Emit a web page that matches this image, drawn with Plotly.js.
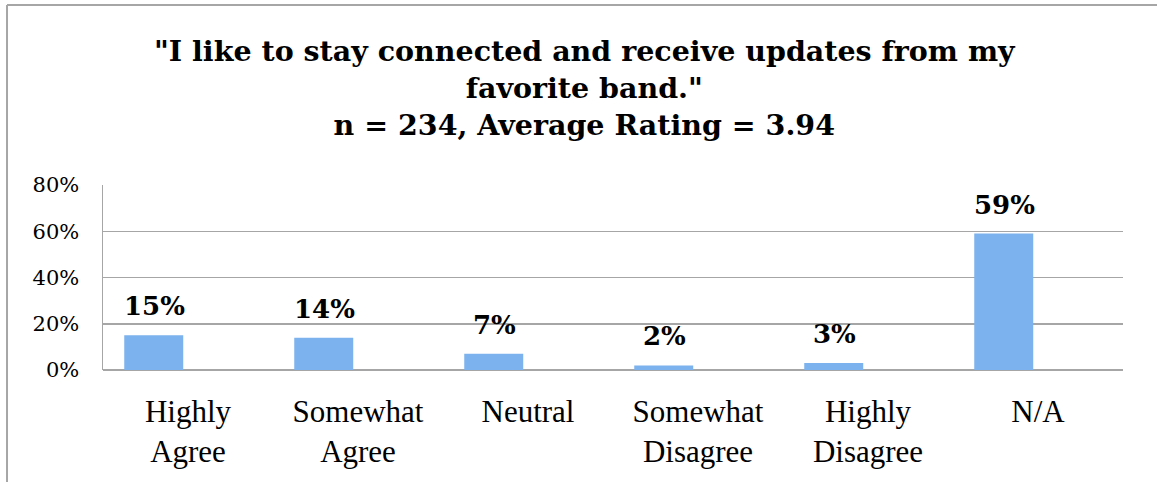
<!DOCTYPE html>
<html>
<head>
<meta charset="utf-8">
<script src="https://cdn.plot.ly/plotly-3.0.1.min.js"></script>
<style>
html,body{margin:0;padding:0;background:#fff;}
#chart{width:1157px;height:482px;}
</style>
</head>
<body>
<div id="chart"></div>
<script>
var categories = ["Highly<br>Agree", "Somewhat<br>Agree", "Neutral", "Somewhat<br>Disagree", "Highly<br>Disagree", "N/A"];
var values = [0.15, 0.14, 0.07, 0.02, 0.03, 0.59];
var valueLabels = ["15%", "14%", "7%", "2%", "3%", "59%"];
var yTickVals = [0, 0.2, 0.4, 0.6, 0.8];
var yTickText = ["0%", "20%", "40%", "60%", "80%"];

var serif = "Liberation Serif, Times New Roman, serif";
var wideSerif = "DejaVu Serif, serif";

var trace = {
  type: "bar",
  x: categories,
  y: values,
  width: 0.347,
  offset: -0.375,
  marker: {color: "#7cb2ed", line: {width: 0}},
  hoverinfo: "none"
};

var annotations = categories.map(function(c, i) {
  return {
    x: c, y: values[i], xref: "x", yref: "y",
    text: "<b>" + valueLabels[i] + "</b>",
    showarrow: false, yanchor: "bottom", xanchor: "center",
    xshift: -34, yshift: 12,
    font: {family: wideSerif, size: 26, color: "#000"}
  };
});

var layout = {
  width: 1157, height: 482,
  margin: {l: 103, r: 34, t: 185, b: 112},
  paper_bgcolor: "#fff", plot_bgcolor: "#fff",
  showlegend: false,
  title: {
    text: "<b>\"I like to stay connected and receive updates from my<br>favorite band.\"<br>n = 234, Average Rating = 3.94</b>",
    font: {family: wideSerif, size: 28.5, color: "#000"},
    x: 0.505, xanchor: "center", xref: "container",
    y: 0.873, yanchor: "top", yref: "container"
  },
  xaxis: {
    type: "category",
    showgrid: false, zeroline: false, showline: false,
    ticks: "", ticklabelstandoff: 20,
    tickfont: {family: serif, size: 31, color: "#000"}
  },
  yaxis: {
    range: [0, 0.8], tickvals: yTickVals, ticktext: yTickText,
    showgrid: true, gridcolor: "#a6a6a6", gridwidth: 1.5,
    zeroline: true, zerolinecolor: "#a6a6a6", zerolinewidth: 1.5,
    showline: true, linecolor: "#a6a6a6", linewidth: 1.5,
    ticks: "", ticklabelstandoff: 18,
    tickfont: {family: wideSerif, size: 21, color: "#000"}
  },
  annotations: annotations,
  shapes: [
    {type: "line", xref: "paper", yref: "paper", x0: -0.0941, x1: -0.0941, y0: -1, y1: 1.973, line: {color: "#a6a6a6", width: 2}},
    {type: "line", xref: "paper", yref: "paper", x0: -0.0941, x1: 1.2, y0: 1.973, y1: 1.973, line: {color: "#a6a6a6", width: 2}}
  ]
};

Plotly.newPlot("chart", [trace], layout, {staticPlot: true, displayModeBar: false});
</script>
</body>
</html>
